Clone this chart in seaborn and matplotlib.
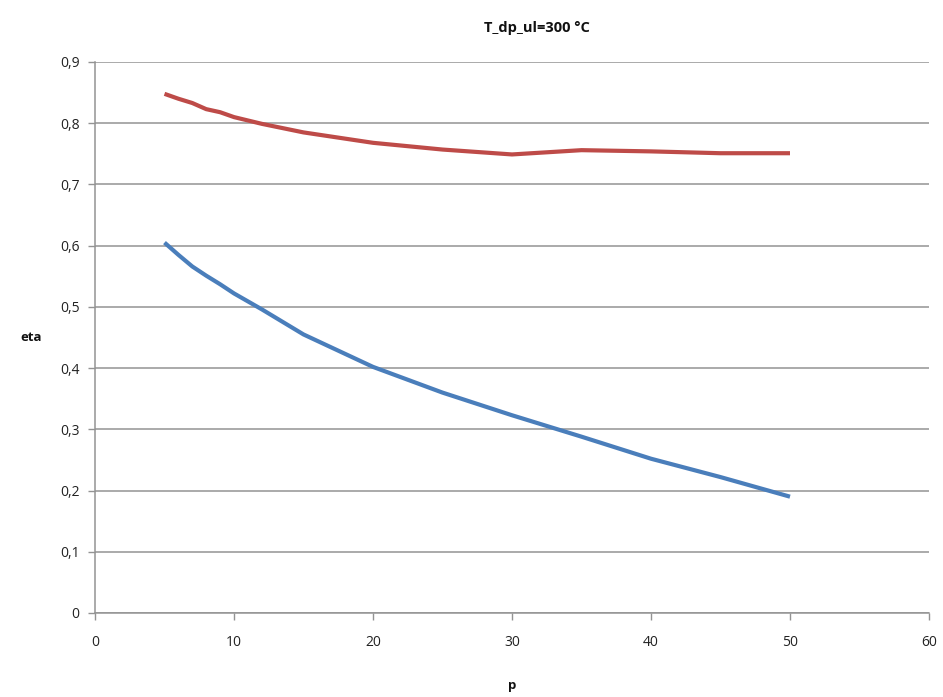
import matplotlib
matplotlib.use("Agg")
import matplotlib.pyplot as plt
import seaborn as sns
import pandas as pd
from matplotlib.ticker import FuncFormatter, MultipleLocator

p_red = [5, 6, 7, 8, 9, 10, 12, 15, 20, 25, 30, 35, 40, 45, 50]
eta_red = [0.848, 0.840, 0.833, 0.823, 0.818, 0.810, 0.799, 0.785, 0.768, 0.757, 0.749, 0.756, 0.754, 0.751, 0.751]
p_blue = [5, 6, 7, 8, 9, 10, 12, 15, 20, 25, 30, 35, 40, 45, 50]
eta_blue = [0.605, 0.585, 0.566, 0.551, 0.537, 0.522, 0.496, 0.455, 0.402, 0.360, 0.323, 0.288, 0.252, 0.222, 0.190]

title = "T_dp_ul=300 °C"
xlabel = "p"
ylabel = "eta"

sns.set_theme(style="white")
plt.rcParams['font.family'] = ['Open Sans', 'DejaVu Sans']

fig = plt.figure(figsize=(9.43, 6.97), dpi=100)
ax = fig.add_axes([95/943, 1-613/697, (929-95)/943, (613-62)/697])

df_r = pd.DataFrame({"p": p_red, "eta": eta_red})
df_b = pd.DataFrame({"p": p_blue, "eta": eta_blue})
sns.lineplot(data=df_r, x="p", y="eta", ax=ax, color="#BE4B48", linewidth=3, solid_capstyle="butt")
sns.lineplot(data=df_b, x="p", y="eta", ax=ax, color="#4A7EBB", linewidth=3, solid_capstyle="butt")

ax.set_xlim(0, 60)
ax.set_ylim(0, 0.9)
ax.xaxis.set_major_locator(MultipleLocator(10))
ax.yaxis.set_major_locator(MultipleLocator(0.1))
ax.yaxis.set_major_formatter(FuncFormatter(lambda v, pos: "0" if abs(v) < 1e-9 else f"{v:.1f}".replace(".", ",")))
ax.grid(axis="y", color="#939393", linewidth=1.1)
ax.grid(axis="x", visible=False)
for s in ["top", "right"]:
    ax.spines[s].set_visible(False)
for s in ["left", "bottom"]:
    ax.spines[s].set_color("#939393")
    ax.spines[s].set_linewidth(1.1)
ax.tick_params(axis="both", which="major", direction="out", length=5, width=1, color="#939393",
               labelsize=10, labelcolor="#222222", left=True, bottom=True)
ax.tick_params(axis="x", pad=11)
ax.tick_params(axis="y", pad=6)
ax.set_xlabel("")
ax.set_ylabel("")

fig.text(537/943, 1-28/697, title, ha="center", va="center", fontsize=10.5, fontweight="bold", color="#111111")
fig.text(512/943, 1-686/697, xlabel, ha="center", va="center", fontsize=9.5, fontweight="bold", color="#111111")
fig.text(31/943, 1-338/697, ylabel, ha="center", va="center", fontsize=9.5, fontweight="bold", color="#111111")

fig.savefig("out.png", dpi=100, facecolor="white")
